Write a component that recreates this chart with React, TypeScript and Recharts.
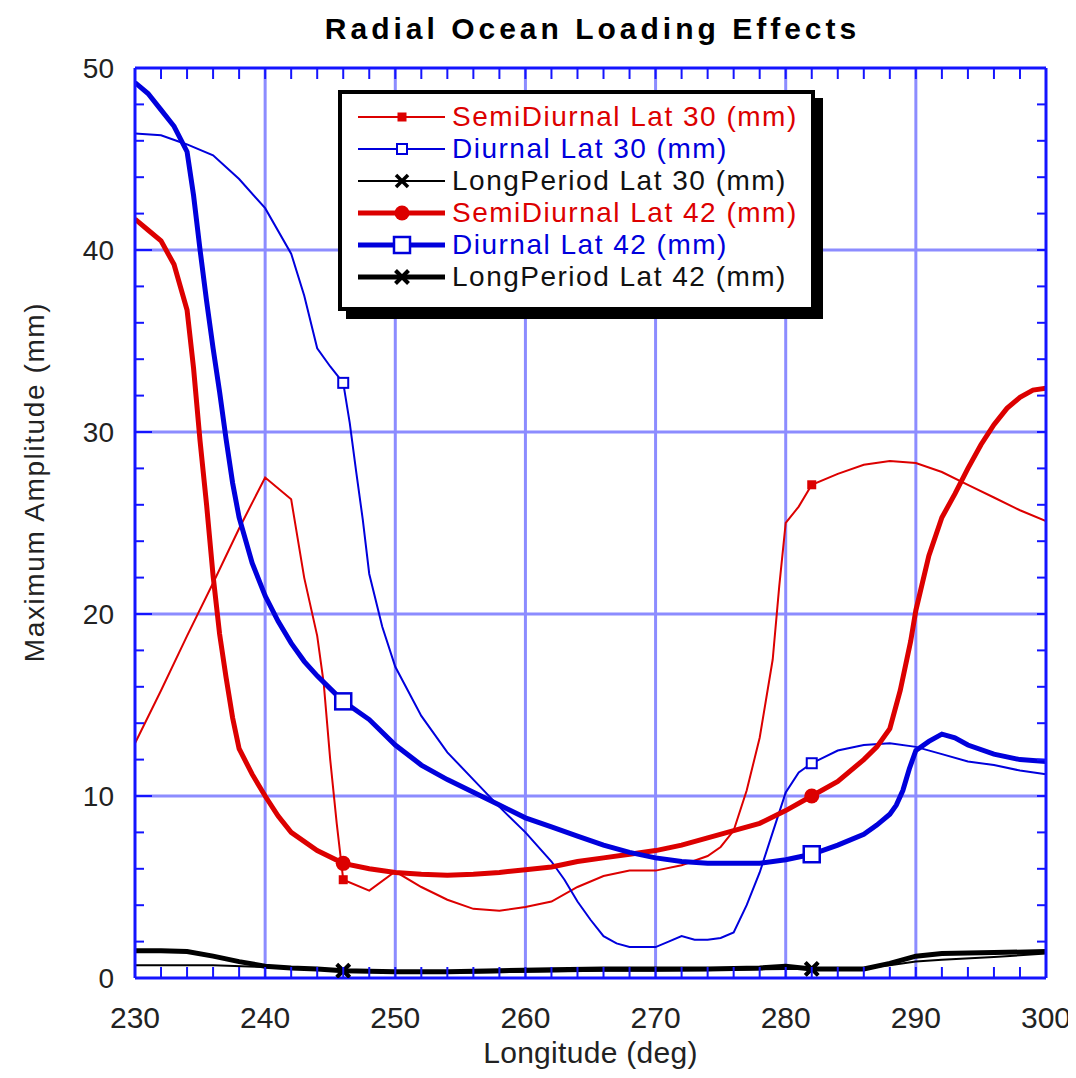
import { CartesianGrid, Label, Legend, Line, LineChart, XAxis, YAxis } from 'recharts'

const RED = '#dc0000'
const BLUE = '#0000dc'
const BLACK = '#000000'
const FRAME = '#1414ff'
const GRID = '#8c8cff'
const FONT = '"Liberation Sans", Arial, sans-serif'

// longitude (deg) / amplitude (mm)
const sd30Lon = [230, 232, 234, 236, 238, 240, 242, 243, 244, 244.5, 245, 245.5, 246, 248, 250, 252, 254, 256, 258, 260, 262, 264, 266, 268, 270, 272, 274, 275, 276, 277, 278, 279, 279.5, 280, 281, 282, 284, 286, 288, 290, 292, 294, 296, 298, 300]
const sd30Amp = [12.9, 15.8, 18.8, 21.7, 24.7, 27.5, 26.3, 22, 18.8, 16.2, 12, 8.5, 5.4, 4.8, 5.85, 5.0, 4.3, 3.8, 3.7, 3.9, 4.2, 5.0, 5.6, 5.9, 5.9, 6.2, 6.7, 7.2, 8.1, 10.3, 13.2, 17.5, 21.5, 25.0, 25.9, 27.1, 27.7, 28.2, 28.4, 28.3, 27.8, 27.1, 26.4, 25.7, 25.1]

const d30Lon = [230, 232, 234, 236, 238, 240, 242, 243, 244, 245, 246, 246.5, 247, 247.5, 248, 249, 250, 252, 254, 256, 258, 260, 262, 263, 264, 265, 266, 267, 268, 270, 271, 272, 273, 274, 275, 276, 277, 278, 279, 280, 281, 282, 284, 286, 288, 290, 292, 294, 296, 298, 300]
const d30Amp = [46.4, 46.3, 45.8, 45.2, 43.9, 42.3, 39.8, 37.5, 34.6, 33.6, 32.7, 30.5, 27.8, 25.2, 22.2, 19.3, 17.1, 14.4, 12.4, 10.9, 9.4, 8.0, 6.4, 5.4, 4.2, 3.2, 2.3, 1.9, 1.7, 1.7, 2.0, 2.3, 2.1, 2.1, 2.2, 2.5, 4.0, 5.8, 8.0, 10.2, 11.3, 11.8, 12.5, 12.8, 12.9, 12.7, 12.3, 11.9, 11.7, 11.4, 11.2]

const lp30Lon = [230, 236, 240, 244, 246, 250, 256, 260, 266, 270, 276, 280, 282, 286, 288, 290, 292, 296, 300]
const lp30Amp = [0.7, 0.7, 0.6, 0.5, 0.4, 0.3, 0.3, 0.35, 0.4, 0.4, 0.45, 0.5, 0.5, 0.55, 0.7, 0.9, 1.0, 1.15, 1.35]

const sd42Lon = [230, 231, 232, 233, 234, 234.5, 235, 235.5, 236, 236.5, 237, 237.5, 238, 239, 240, 241, 242, 244, 246, 248, 250, 252, 254, 256, 258, 260, 262, 264, 266, 268, 270, 272, 274, 276, 278, 280, 282, 284, 286, 287, 288, 288.8, 289.6, 290, 291, 292, 293, 294, 295, 296, 297, 298, 299, 300]
const sd42Amp = [41.7, 41.1, 40.5, 39.2, 36.7, 33.5, 29.5, 26, 22.1, 18.9, 16.5, 14.3, 12.6, 11.2, 10.0, 8.9, 8.0, 7.0, 6.3, 6.0, 5.8, 5.7, 5.65, 5.7, 5.8, 5.95, 6.1, 6.4, 6.6, 6.8, 7.0, 7.3, 7.7, 8.1, 8.5, 9.2, 10.0, 10.8, 12.0, 12.7, 13.7, 15.8, 18.5, 20.2, 23.2, 25.3, 26.6, 28.0, 29.3, 30.4, 31.3, 31.9, 32.3, 32.4]

const d42Lon = [230, 231, 232, 233, 234, 234.5, 235, 235.5, 236, 236.5, 237, 237.5, 238, 239, 240, 241, 242, 243, 244, 245, 246, 248, 250, 252, 254, 256, 258, 260, 262, 264, 266, 268, 270, 272, 274, 276, 278, 280, 282, 284, 286, 287, 288, 288.5, 289, 289.5, 290, 291, 292, 293, 294, 296, 298, 300]
const d42Amp = [49.2, 48.6, 47.7, 46.8, 45.4, 43, 40, 37.2, 34.6, 32.2, 29.6, 27.2, 25.3, 22.8, 21.0, 19.6, 18.4, 17.4, 16.6, 15.9, 15.2, 14.2, 12.8, 11.7, 10.9, 10.2, 9.5, 8.8, 8.3, 7.8, 7.3, 6.9, 6.6, 6.4, 6.3, 6.3, 6.3, 6.5, 6.8, 7.3, 7.9, 8.4, 9.0, 9.5, 10.3, 11.5, 12.5, 13.0, 13.4, 13.2, 12.8, 12.3, 12.0, 11.9]

const lp42Lon = [230, 232, 234, 236, 238, 240, 242, 244, 246, 250, 254, 258, 262, 266, 270, 274, 278, 280, 282, 286, 288, 290, 292, 296, 300]
const lp42Amp = [1.5, 1.5, 1.45, 1.2, 0.9, 0.65, 0.55, 0.5, 0.4, 0.35, 0.35, 0.4, 0.45, 0.5, 0.5, 0.5, 0.55, 0.65, 0.5, 0.5, 0.8, 1.2, 1.35, 1.4, 1.45]

const X_TICKS = Array.from({ length: 36 }, (_, i) => 230 + i * 2)
const Y_TICKS = Array.from({ length: 26 }, (_, i) => i * 2)
const X_GRID = [240, 250, 260, 270, 280, 290]
const Y_GRID = [10, 20, 30, 40]
const MARK_AT = [246, 282]

type MarkerKind = 'smallSquare' | 'smallOpen' | 'smallX' | 'circle' | 'bigOpen' | 'bigX'

type Series = {
  key: string
  name: string
  color: string
  width: number
  marker: MarkerKind
  lon: number[]
  amp: number[]
}

const SERIES: Series[] = [
  { key: 'sd30', name: 'SemiDiurnal Lat 30 (mm)', color: RED, width: 2, marker: 'smallSquare', lon: sd30Lon, amp: sd30Amp },
  { key: 'd30', name: 'Diurnal Lat 30 (mm)', color: BLUE, width: 2, marker: 'smallOpen', lon: d30Lon, amp: d30Amp },
  { key: 'lp30', name: 'LongPeriod Lat 30 (mm)', color: BLACK, width: 2, marker: 'smallX', lon: lp30Lon, amp: lp30Amp },
  { key: 'sd42', name: 'SemiDiurnal Lat 42 (mm)', color: RED, width: 5, marker: 'circle', lon: sd42Lon, amp: sd42Amp },
  { key: 'd42', name: 'Diurnal Lat 42 (mm)', color: BLUE, width: 5, marker: 'bigOpen', lon: d42Lon, amp: d42Amp },
  { key: 'lp42', name: 'LongPeriod Lat 42 (mm)', color: BLACK, width: 5, marker: 'bigX', lon: lp42Lon, amp: lp42Amp },
]

function Marker({ kind, cx, cy, color }: { kind: MarkerKind; cx: number; cy: number; color: string }) {
  switch (kind) {
    case 'smallSquare':
      return <rect x={cx - 4.5} y={cy - 4.5} width={9} height={9} fill={color} />
    case 'smallOpen':
      return <rect x={cx - 5} y={cy - 5} width={10} height={10} fill="#fff" stroke={color} strokeWidth={2} />
    case 'circle':
      return <circle cx={cx} cy={cy} r={7.5} fill={color} />
    case 'bigOpen':
      return <rect x={cx - 8} y={cy - 8} width={16} height={16} fill="#fff" stroke={color} strokeWidth={2.5} />
    case 'smallX':
    case 'bigX': {
      const r = kind === 'bigX' ? 6.5 : 6
      const w = kind === 'bigX' ? 4 : 3.5
      return (
        <g stroke={color} strokeWidth={w}>
          <line x1={cx - r} y1={cy - r} x2={cx + r} y2={cy + r} />
          <line x1={cx - r} y1={cy + r} x2={cx + r} y2={cy - r} />
        </g>
      )
    }
  }
}

const makeDot = (s: Series) => (props: any) => {
  const { cx, cy, payload, index } = props
  if (!MARK_AT.includes(payload?.lon)) return <g key={`${s.key}-${index}`} />
  return (
    <g key={`${s.key}-${index}`}>
      <Marker kind={s.marker} cx={cx} cy={cy} color={s.color} />
    </g>
  )
}

// ticks point inward; tickSize/tickMargin are 0 so (x, y) sits on the frame
const BottomTick = ({ x, y, payload }: any) => (
  <g>
    <line x1={x} y1={y} x2={x} y2={y - 11} stroke={FRAME} strokeWidth={2} />
    {payload.value % 10 === 0 && (
      <text x={x} y={y + 50} textAnchor="middle" fontSize={30} fontFamily={FONT} fill="#222">
        {payload.value}
      </text>
    )}
  </g>
)

const TopTick = ({ x, y }: any) => (
  <line x1={x} y1={y} x2={x} y2={y + 11} stroke={FRAME} strokeWidth={2} />
)

const LeftTick = ({ x, y, payload }: any) => {
  const major = payload.value % 10 === 0
  return (
    <g>
      <line x1={x} y1={y} x2={x + (major ? 17 : 9)} y2={y} stroke={FRAME} strokeWidth={2} />
      {major && (
        <text x={x - 21} y={y} dy="0.36em" textAnchor="end" fontSize={28} fontFamily={FONT} fill="#222">
          {payload.value}
        </text>
      )}
    </g>
  )
}

const RightTick = ({ x, y }: any) => (
  <line x1={x} y1={y} x2={x - 9} y2={y} stroke={FRAME} strokeWidth={2} />
)

const TitleLabel = ({ viewBox }: any) => (
  <text
    x={viewBox.x + viewBox.width / 2 + 2}
    y={31}
    textAnchor="middle"
    fontSize={30}
    fontWeight="bold"
    letterSpacing={4}
    fontFamily={FONT}
    fill="#000"
  >
    Radial Ocean Loading Effects
  </text>
)

const XLabel = ({ viewBox }: any) => (
  <text
    x={viewBox.x + viewBox.width / 2}
    y={viewBox.y + 85}
    textAnchor="middle"
    fontSize={30}
    letterSpacing={0.3}
    fontFamily={FONT}
    fill="#222"
  >
    Longitude (deg)
  </text>
)

const YLabel = () => {
  const cx = 26
  const cy = 474
  return (
    <text
      x={cx}
      y={cy}
      dy="0.36em"
      textAnchor="middle"
      transform={`rotate(-90 ${cx} ${cy})`}
      fontSize={28}
      letterSpacing={1.6}
      fontFamily={FONT}
      fill="#222"
    >
      Maximum Amplitude (mm)
    </text>
  )
}

function LegendBox() {
  return (
    <div
      style={{
        width: 456,
        height: 206,
        border: '4px solid #000',
        background: '#fff',
        boxShadow: '8px 8px 0 #000',
        padding: '7px 0 0 13px',
        boxSizing: 'content-box',
        fontFamily: FONT,
      }}
    >
      {SERIES.map((s) => (
        <div key={s.key} style={{ display: 'flex', alignItems: 'center', height: 32 }}>
          <svg width={96} height={30} style={{ flex: 'none' }}>
            <line x1={3} y1={15} x2={90} y2={15} stroke={s.color} strokeWidth={s.width} />
            <Marker kind={s.marker} cx={47} cy={15} color={s.color} />
          </svg>
          <span style={{ marginLeft: 1, fontSize: 28, letterSpacing: 1.5, color: s.color === BLACK ? '#111' : s.color, whiteSpace: 'nowrap' }}>
            {s.name}
          </span>
        </div>
      ))}
    </div>
  )
}

export default function App() {
  return (
    <LineChart width={1068} height={1062} margin={{ top: 59, right: 29, bottom: 0, left: 0 }}>
      <CartesianGrid
        xAxisId="b"
        yAxisId="l"
        verticalValues={X_GRID}
        horizontalValues={Y_GRID}
        stroke={GRID}
        strokeWidth={3}
      />
      <XAxis
        xAxisId="b"
        type="number"
        dataKey="lon"
        domain={[230, 300]}
        allowDataOverflow
        ticks={X_TICKS}
        interval={0}
        tickSize={0}
        tickMargin={0}
        tick={BottomTick}
        tickLine={false}
        axisLine={{ stroke: FRAME, strokeWidth: 3 }}
        height={92}
      >
        <Label content={XLabel} />
      </XAxis>
      <XAxis
        xAxisId="t"
        orientation="top"
        type="number"
        dataKey="lon"
        domain={[230, 300]}
        allowDataOverflow
        ticks={X_TICKS}
        interval={0}
        tickSize={0}
        tickMargin={0}
        tick={TopTick}
        tickLine={false}
        axisLine={{ stroke: FRAME, strokeWidth: 3 }}
        height={1}
      >
        <Label content={TitleLabel} />
      </XAxis>
      <YAxis
        yAxisId="l"
        type="number"
        domain={[0, 50]}
        allowDataOverflow
        ticks={Y_TICKS}
        interval={0}
        tickSize={0}
        tickMargin={0}
        tick={LeftTick}
        tickLine={false}
        axisLine={{ stroke: FRAME, strokeWidth: 3 }}
        width={127}
      >
        <Label content={YLabel} />
      </YAxis>
      <YAxis
        yAxisId="r"
        orientation="right"
        type="number"
        domain={[0, 50]}
        allowDataOverflow
        ticks={Y_TICKS}
        interval={0}
        tickSize={0}
        tickMargin={0}
        tick={RightTick}
        tickLine={false}
        axisLine={{ stroke: FRAME, strokeWidth: 3 }}
        width={1}
      />
      {SERIES.map((s) => (
        <Line
          key={s.key}
          xAxisId="b"
          yAxisId="l"
          name={s.name}
          data={s.lon.map((lon, i) => ({ lon, amp: s.amp[i] }))}
          dataKey="amp"
          type="linear"
          stroke={s.color}
          strokeWidth={s.width}
          dot={makeDot(s)}
          activeDot={false}
          isAnimationActive={false}
        />
      ))}
      <Legend
        layout="vertical"
        align="center"
        verticalAlign="middle"
        wrapperStyle={{ left: 330, top: 82, width: 'auto' }}
        content={() => <LegendBox />}
      />
    </LineChart>
  )
}
